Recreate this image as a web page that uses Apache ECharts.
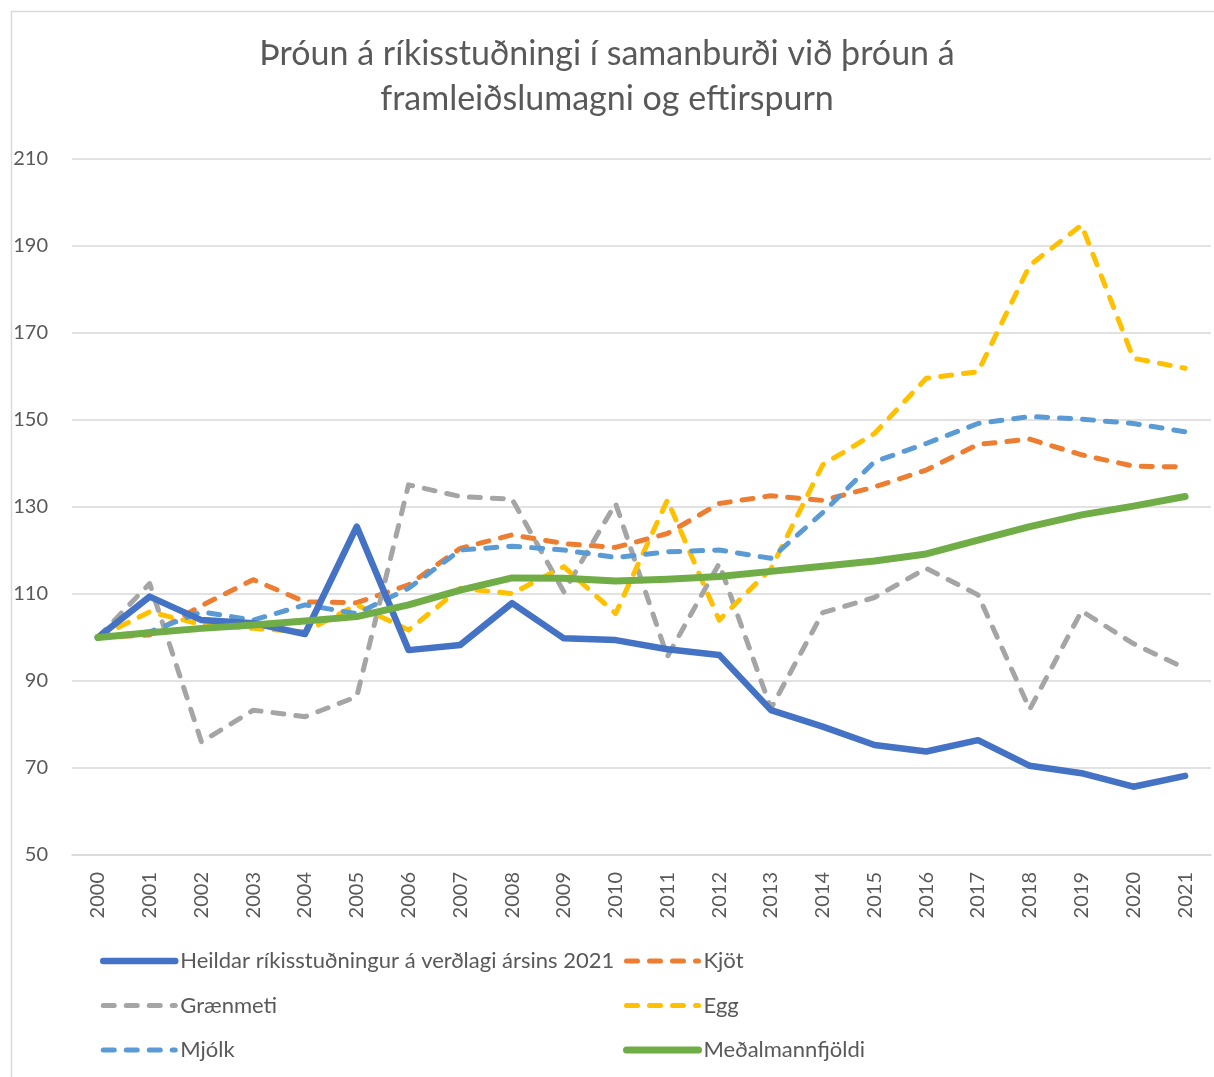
<!DOCTYPE html>
<html>
<head>
<meta charset="utf-8">
<script src="https://cdn.jsdelivr.net/npm/echarts@6/dist/echarts.min.js"></script>
<style>
  html, body { margin: 0; padding: 0; background: #fff; }
  #chart { width: 1214px; height: 1077px; }
</style>
</head>
<body>
<div id="chart"></div>
<script>
const years = ['2000','2001','2002','2003','2004','2005','2006','2007','2008','2009','2010','2011','2012','2013','2014','2015','2016','2017','2018','2019','2020','2021'];

const heildar = [100, 109.4, 104.0, 103.3, 100.8, 125.5, 97.1, 98.3, 107.9, 99.8, 99.4, 97.3, 96.0, 83.3, 79.5, 75.3, 73.8, 76.4, 70.5, 68.8, 65.7, 68.2];
const kjot = [100, 100.6, 107.3, 113.3, 108.2, 108.0, 112.1, 120.5, 123.6, 121.6, 120.7, 123.9, 130.8, 132.6, 131.5, 134.6, 138.5, 144.4, 145.6, 142.0, 139.4, 139.2];
const graenmeti = [100, 112.4, 76.0, 83.3, 81.8, 86.4, 135.1, 132.4, 131.8, 110.5, 130.8, 95.6, 117.0, 83.7, 105.7, 109.2, 115.9, 109.8, 83.5, 106.1, 98.6, 92.9];
const egg = [100, 105.9, 103.0, 102.1, 101.3, 107.5, 101.7, 111.3, 110.1, 116.3, 105.5, 131.6, 104.0, 115.8, 139.7, 146.9, 159.6, 161.1, 185.6, 194.8, 164.2, 161.9];
const mjolk = [100, 101.3, 105.9, 104.0, 107.5, 105.5, 111.3, 120.1, 121.0, 120.1, 118.4, 119.7, 120.1, 118.2, 128.7, 140.4, 144.6, 149.2, 150.8, 150.2, 149.2, 147.3];
const medal = [100, 101.1, 102.1, 102.9, 103.8, 104.8, 107.5, 110.9, 113.7, 113.6, 113.0, 113.4, 114.0, 115.2, 116.4, 117.6, 119.2, 122.4, 125.5, 128.2, 130.2, 132.4];

const yTicks = [50, 70, 90, 110, 130, 150, 170, 190, 210];

const names = {
  heildar: 'Heildar ríkisstuðningur á verðlagi ársins 2021',
  kjot: 'Kjöt',
  graenmeti: 'Grænmeti',
  egg: 'Egg',
  mjolk: 'Mjólk',
  medal: 'Meðalmannfjöldi'
};

const FONT = 'Lato, "Open Sans", sans-serif';
const TXT = '#595959';
const DASH = [11, 12];
const DW = 5;

function solid(name, data, color, width) {
  return {
    name, type: 'line', data, symbol: 'none', smooth: false,
    lineStyle: { color, width, cap: 'round', join: 'round' },
    itemStyle: { color },
    emphasis: { disabled: true }, z: 3
  };
}
function dashed(name, data, color) {
  return {
    name, type: 'line', data, symbol: 'none', smooth: false,
    lineStyle: { color, width: DW, type: DASH, cap: 'round', join: 'round' },
    itemStyle: { color },
    emphasis: { disabled: true }, z: 2
  };
}
function legItem(name, color, width, dash) {
  return {
    name,
    itemStyle: { opacity: 0 },
    lineStyle: { color, width, type: dash ? DASH : 'solid', cap: 'round' }
  };
}

const legendCommon = {
  orient: 'vertical', top: 950, padding: 0,
  itemWidth: 72, itemHeight: 22, itemGap: 22.5,
  textStyle: { fontFamily: FONT, fontSize: 22, color: TXT }
};

const chart = echarts.init(document.getElementById('chart'), null, { renderer: 'canvas' });
chart.setOption({
  animation: false,
  backgroundColor: '#fff',
  graphic: [{
    type: 'rect', left: 9, top: 9, z: -10, silent: true,
    shape: { width: 1260, height: 1120 },
    style: { fill: 'none', stroke: '#d9d9d9', lineWidth: 1.5 }
  }],
  title: {
    text: 'Þróun á ríkisstuðningi í samanburði við þróun á\nframleiðslumagni og eftirspurn',
    left: 'center',
    top: 32,
    padding: 0,
    textStyle: { fontFamily: FONT, fontSize: 34, fontWeight: 'normal', color: TXT, lineHeight: 45 }
  },
  legend: [
    Object.assign({}, legendCommon, {
      left: 100,
      data: [
        legItem(names.heildar, '#4472C4', 6.5, false),
        legItem(names.graenmeti, '#A5A5A5', DW, true),
        legItem(names.mjolk, '#5B9BD5', DW, true)
      ]
    }),
    Object.assign({}, legendCommon, {
      left: 623,
      data: [
        legItem(names.kjot, '#ED7D31', DW, true),
        legItem(names.egg, '#FFC000', DW, true),
        legItem(names.medal, '#70AD47', 7, false)
      ]
    })
  ],
  grid: { left: 72, right: 3, top: 159, bottom: 222, containLabel: false },
  xAxis: {
    type: 'category', data: years, boundaryGap: true,
    axisLine: { show: true, lineStyle: { color: '#d9d9d9', width: 1.5 } },
    axisTick: { show: false },
    axisLabel: { rotate: 90, margin: 17, fontFamily: FONT, fontSize: 20, color: TXT, interval: 0 }
  },
  yAxis: {
    type: 'value', min: yTicks[0], max: yTicks[yTicks.length - 1], interval: 20,
    axisLine: { show: false }, axisTick: { show: false },
    splitLine: { lineStyle: { color: '#d9d9d9', width: 1.5 } },
    axisLabel: { margin: 24, fontFamily: FONT, fontSize: 20, color: TXT }
  },
  series: [
    solid(names.heildar, heildar, '#4472C4', 6.5),
    dashed(names.kjot, kjot, '#ED7D31'),
    dashed(names.graenmeti, graenmeti, '#A5A5A5'),
    dashed(names.egg, egg, '#FFC000'),
    dashed(names.mjolk, mjolk, '#5B9BD5'),
    solid(names.medal, medal, '#70AD47', 7)
  ]
});
</script>
</body>
</html>
